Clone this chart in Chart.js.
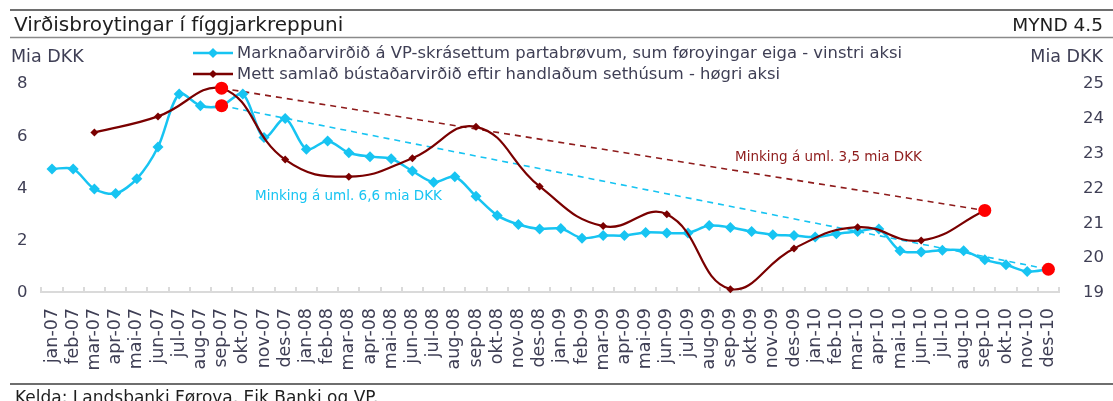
<!DOCTYPE html>
<html>
<head>
<meta charset="utf-8">
<title>Virðisbroytingar í fíggjarkreppuni</title>
<script src="https://cdn.jsdelivr.net/npm/chart.js@4.4.0/dist/chart.umd.min.js"></script>
<style>
    html, body { margin: 0; padding: 0; background: #fff; }
    #wrap { position: relative; width: 1113px; height: 401px; }
</style>
</head>
<body>
<div id="wrap"><canvas id="chart" width="1113" height="401"></canvas></div>
<script>
// months on the x axis
const months = [
    'jan-07', 'feb-07', 'mar-07', 'apr-07', 'mai-07', 'jun-07', 'jul-07', 'aug-07', 'sep-07', 'okt-07', 'nov-07', 'des-07',
    'jan-08', 'feb-08', 'mar-08', 'apr-08', 'mai-08', 'jun-08', 'jul-08', 'aug-08', 'sep-08', 'okt-08', 'nov-08', 'des-08',
    'jan-09', 'feb-09', 'mar-09', 'apr-09', 'mai-09', 'jun-09', 'jul-09', 'aug-09', 'sep-09', 'okt-09', 'nov-09', 'des-09',
    'jan-10', 'feb-10', 'mar-10', 'apr-10', 'mai-10', 'jun-10', 'jul-10', 'aug-10', 'sep-10', 'okt-10', 'nov-10', 'des-10'
];

// market value of listed shares, left axis (mia DKK)
const marketValue = [
    4.75, 4.75, 3.98, 3.81, 4.37, 5.59, 7.62, 7.17, 7.17, 7.62, 5.95, 6.68,
    5.50, 5.82, 5.37, 5.22, 5.14, 4.67, 4.24, 4.45, 3.70, 2.97, 2.62, 2.45,
    2.47, 2.10, 2.20, 2.20, 2.32, 2.30, 2.30, 2.58, 2.51, 2.35, 2.23, 2.20,
    2.14, 2.27, 2.35, 2.45, 1.62, 1.57, 1.64, 1.62, 1.27, 1.08, 0.82, 0.91
];

// estimated housing value, right axis, quarterly
const housingValue = [
    null, null, 23.61, null, null, 24.07, null, null, 24.88, null, null, 22.83,
    null, null, 22.34, null, null, 22.87, null, null, 23.77, null, null, 22.06,
    null, null, 20.92, null, null, 21.26, null, null, 19.11, null, null, 20.28,
    null, null, 20.89, null, null, 20.51, null, null, 21.37, null, null, null
];

// the two "minking" lines, only their end points
const marketTrend = months.map(m => m === 'sep-07' ? 7.17 : (m === 'des-10' ? 0.91 : null));
const housingTrend = months.map(m => m === 'sep-07' ? 24.88 : (m === 'sep-10' ? 21.37 : null));

const leftTicks = [0, 2, 4, 6, 8];
const rightTicks = [19, 20, 21, 22, 23, 24, 25];

const CYAN = '#17c4f2';
const DARKRED = '#7a0000';
const TRENDRED = '#8e1b1b';
const TEXT = '#3f3f55';
const FONT = "'DejaVu Sans', Verdana, sans-serif";

const decor = {
    id: 'decor',
    beforeDatasetsDraw(chart) {
        const { ctx, chartArea: a, scales: { x } } = chart;
        const step = x.getPixelForValue(1) - x.getPixelForValue(0);
        const first = x.getPixelForValue(0) - step / 2;
        ctx.save();
        ctx.strokeStyle = '#dadada';
        ctx.lineWidth = 2;
        ctx.beginPath();
        ctx.moveTo(a.left, a.bottom - 1);
        ctx.lineTo(a.right, a.bottom - 1);
        for (let i = 0; i <= months.length; i++) {
            const px = Math.round(first + i * step);
            ctx.moveTo(px, a.bottom);
            ctx.lineTo(px, a.bottom - 6);
        }
        ctx.stroke();
        ctx.restore();
    },
    afterDraw(chart) {
        const ctx = chart.ctx;
        ctx.save();

        // frame lines
        ctx.strokeStyle = '#6e6e6e';
        ctx.lineWidth = 2;
        ctx.beginPath();
        ctx.moveTo(10, 10); ctx.lineTo(1113, 10);
        ctx.moveTo(10, 384); ctx.lineTo(1113, 384);
        ctx.stroke();
        ctx.strokeStyle = '#8a8a8a';
        ctx.lineWidth = 1.5;
        ctx.beginPath();
        ctx.moveTo(10, 37.5); ctx.lineTo(1113, 37.5);
        ctx.stroke();

        ctx.textBaseline = 'alphabetic';
        ctx.fillStyle = '#1e1e1e';
        ctx.font = '20px ' + FONT;
        ctx.textAlign = 'left';
        ctx.fillText('Virðisbroytingar í fíggjarkreppuni', 14, 31);
        ctx.font = '18.5px ' + FONT;
        ctx.textAlign = 'right';
        ctx.fillText('MYND 4.5', 1103, 31);

        ctx.fillStyle = TEXT;
        ctx.font = '17.5px ' + FONT;
        ctx.textAlign = 'left';
        ctx.fillText('Mia DKK', 11, 62);
        ctx.textAlign = 'right';
        ctx.fillText('Mia DKK', 1103, 62);

        // legend
        const legend = [
            { text: 'Marknaðarvirðið á VP-skrásettum partabrøvum, sum føroyingar eiga - vinstri aksi', color: CYAN, r: 5, y: 53 },
            { text: 'Mett samlað bústaðarvirðið eftir handlaðum sethúsum - høgri aksi', color: DARKRED, r: 4, y: 74 }
        ];
        legend.forEach(item => {
            ctx.strokeStyle = item.color;
            ctx.lineWidth = 2.5;
            ctx.beginPath();
            ctx.moveTo(193, item.y);
            ctx.lineTo(233, item.y);
            ctx.stroke();
            ctx.fillStyle = item.color;
            ctx.beginPath();
            ctx.moveTo(213 - item.r, item.y);
            ctx.lineTo(213, item.y - item.r);
            ctx.lineTo(213 + item.r, item.y);
            ctx.lineTo(213, item.y + item.r);
            ctx.closePath();
            ctx.fill();
            ctx.fillStyle = TEXT;
            ctx.font = '16.4px ' + FONT;
            ctx.textAlign = 'left';
            ctx.textBaseline = 'middle';
            ctx.fillText(item.text, 237, item.y + 1);
        });

        // notes on the trend lines
        ctx.font = '13.5px ' + FONT;
        ctx.textBaseline = 'middle';
        ctx.fillStyle = CYAN;
        ctx.fillText('Minking á uml. 6,6 mia DKK', 255, 196);
        ctx.fillStyle = TRENDRED;
        ctx.fillText('Minking á uml. 3,5 mia DKK', 735, 157);

        ctx.fillStyle = '#1e1e1e';
        ctx.font = '17px ' + FONT;
        ctx.textBaseline = 'alphabetic';
        ctx.fillText('Kelda: Landsbanki Føroya, Eik Banki og VP.', 15, 403);
        ctx.restore();
    }
};

new Chart(document.getElementById('chart'), {
    type: 'line',
    data: {
        labels: months,
        datasets: [
            {
                label: 'trend dots left',
                data: marketTrend,
                yAxisID: 'y',
                showLine: false,
                pointStyle: 'circle',
                pointRadius: 6.5,
                pointBackgroundColor: '#ff0000',
                pointBorderWidth: 0,
                clip: false,
                order: 0
            },
            {
                label: 'trend dots right',
                data: housingTrend,
                yAxisID: 'y1',
                showLine: false,
                pointStyle: 'circle',
                pointRadius: 6.5,
                pointBackgroundColor: '#ff0000',
                pointBorderWidth: 0,
                clip: false,
                order: 0
            },
            {
                label: 'Mett samlað bústaðarvirðið eftir handlaðum sethúsum - høgri aksi',
                data: housingValue,
                yAxisID: 'y1',
                borderColor: DARKRED,
                backgroundColor: DARKRED,
                borderWidth: 2.2,
                tension: 0.45,
                spanGaps: true,
                pointStyle: 'rectRot',
                pointRadius: 4,
                pointBorderWidth: 0,
                clip: false,
                order: 1
            },
            {
                label: 'Marknaðarvirðið á VP-skrásettum partabrøvum, sum føroyingar eiga - vinstri aksi',
                data: marketValue,
                yAxisID: 'y',
                borderColor: CYAN,
                backgroundColor: CYAN,
                borderWidth: 2.5,
                tension: 0.3,
                pointStyle: 'rectRot',
                pointRadius: 5.5,
                pointBorderWidth: 0,
                clip: false,
                order: 2
            },
            {
                label: 'trend left',
                data: marketTrend,
                yAxisID: 'y',
                borderColor: CYAN,
                borderWidth: 1.6,
                borderDash: [6, 5],
                spanGaps: true,
                pointRadius: 0,
                clip: false,
                order: 3
            },
            {
                label: 'trend right',
                data: housingTrend,
                yAxisID: 'y1',
                borderColor: TRENDRED,
                borderWidth: 1.6,
                borderDash: [6, 5],
                spanGaps: true,
                pointRadius: 0,
                clip: false,
                order: 3
            }
        ]
    },
    options: {
        responsive: false,
        animation: false,
        events: [],
        layout: { padding: { top: 84, left: 0, right: 0, bottom: 0 } },
        plugins: {
            legend: { display: false },
            tooltip: { enabled: false }
        },
        scales: {
            x: {
                type: 'category',
                offset: true,
                grid: { display: false, drawTicks: false },
                border: { display: false },
                ticks: {
                    autoSkip: false,
                    maxRotation: 90,
                    minRotation: 90,
                    padding: 15,
                    color: TEXT,
                    font: { family: FONT, size: 17.5 }
                },
                afterFit: scale => { scale.height = 108; }
            },
            y: {
                position: 'left',
                min: leftTicks[0],
                max: leftTicks[leftTicks.length - 1],
                afterBuildTicks: scale => { scale.ticks = leftTicks.map(v => ({ value: v })); },
                grid: { display: false, drawTicks: false },
                border: { display: false },
                ticks: {
                    padding: 14,
                    color: TEXT,
                    font: { family: FONT, size: 16.5 }
                },
                afterFit: scale => { scale.width = 41.4; }
            },
            y1: {
                position: 'right',
                min: rightTicks[0],
                max: rightTicks[rightTicks.length - 1],
                afterBuildTicks: scale => { scale.ticks = rightTicks.map(v => ({ value: v })); },
                grid: { display: false, drawTicks: false },
                border: { display: false },
                ticks: {
                    padding: 24,
                    color: TEXT,
                    font: { family: FONT, size: 16.5 }
                },
                afterFit: scale => { scale.width = 54; }
            }
        }
    },
    plugins: [decor]
});
</script>
</body>
</html>
